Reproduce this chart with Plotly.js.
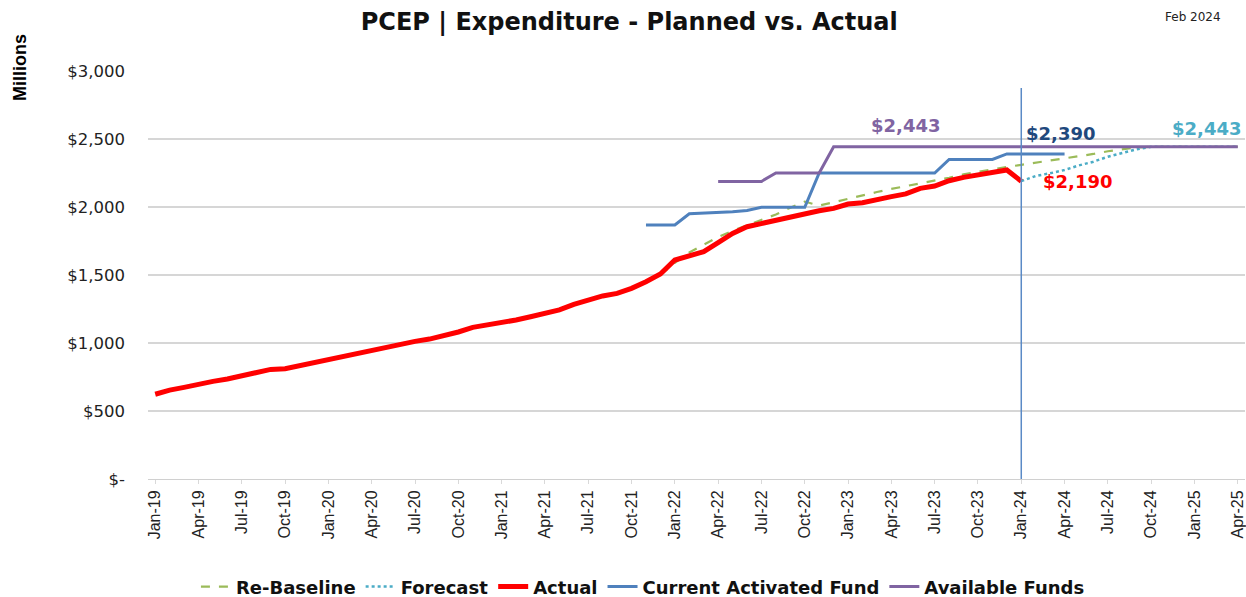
<!DOCTYPE html>
<html>
<head>
<meta charset="utf-8">
<script src="https://cdn.plot.ly/plotly-3.0.1.min.js"></script>
<style>html,body{margin:0;padding:0;background:#fff;}#chart{width:1246px;height:597px;}</style>
</head>
<body>
<div id="chart"></div>
<script>
// Month categories Jan-19 .. Apr-25
const months = [
 "Jan-19","Feb-19","Mar-19","Apr-19","May-19","Jun-19","Jul-19","Aug-19","Sep-19","Oct-19","Nov-19","Dec-19",
 "Jan-20","Feb-20","Mar-20","Apr-20","May-20","Jun-20","Jul-20","Aug-20","Sep-20","Oct-20","Nov-20","Dec-20",
 "Jan-21","Feb-21","Mar-21","Apr-21","May-21","Jun-21","Jul-21","Aug-21","Sep-21","Oct-21","Nov-21","Dec-21",
 "Jan-22","Feb-22","Mar-22","Apr-22","May-22","Jun-22","Jul-22","Aug-22","Sep-22","Oct-22","Nov-22","Dec-22",
 "Jan-23","Feb-23","Mar-23","Apr-23","May-23","Jun-23","Jul-23","Aug-23","Sep-23","Oct-23","Nov-23","Dec-23",
 "Jan-24","Feb-24","Mar-24","Apr-24","May-24","Jun-24","Jul-24","Aug-24","Sep-24","Oct-24","Nov-24","Dec-24",
 "Jan-25","Feb-25","Mar-25","Apr-25"
];
const tickLabels = ["Jan-19","Apr-19","Jul-19","Oct-19","Jan-20","Apr-20","Jul-20","Oct-20","Jan-21","Apr-21","Jul-21","Oct-21",
 "Jan-22","Apr-22","Jul-22","Oct-22","Jan-23","Apr-23","Jul-23","Oct-23","Jan-24","Apr-24","Jul-24","Oct-24","Jan-25","Apr-25"];

// Actual: Jan-19 .. Jan-24
const actualMonths = months.slice(0, 61);
const actual = [623,654,674,698,718,735,757,777,806,811,833,863,
 880,899,924,949,965,990,1012,1029,1051,1081,1115,1132,
 1145,1169,1193,1218,1243,1284,1316,1346,1365,1402,1451,1507,
 1610,1642,1672,1738,1806,1855,1880,1897,1924,1949,1972,1990,
 2022,2032,2057,2076,2096,2137,2154,2193,2218,2235,2252,2272,
 2190];

// Re-Baseline: Dec-21 .. Apr-25
const rebaseMonths = months.slice(35);
const rebaseline = [1500,
 1590,1665,1725,1780,1825,1865,1905,1945,1995,2040,2010,2035,
 2065,2088,2110,2133,2153,2174,2195,2215,2240,2260,2280,2295,
 2310,2325,2340,2360,2375,2390,2410,2425,2438,2443,2443,2443,
 2443,2443,2443,2443];

// Forecast: Jan-24 .. Apr-25
const forecastMonths = months.slice(60);
const forecast = [2190,2228,2248,2272,2306,2333,2370,2395,2424,2443,2443,2443,2443,2443,2443,2443];

// Current Activated Fund: Nov-21 .. Apr-24
const activatedMonths = months.slice(34, 64);
const activated = [1868,1868,1868,1950,1955,1958,1965,1975,1998,1998,1998,1998,
 2250,2250,2250,2250,2250,2250,2250,2250,2250,2350,2350,2350,2350,2390,2390,2390,2390,2390];

// Available Funds: Apr-22 .. Apr-25
const availableMonths = months.slice(39);
const available = [2188,2188,2188,2188,2250,2250,2250,2250,
 2443,2443,2443,2443,2443,2443,2443,2443,2443,2443,2443,2443,2443,2443,2443,2443,2443,
 2443,2443,2443,2443,2443,2443,2443,2443,2443,2443,2443,2443];

const yTickVals = [0,500,1000,1500,2000,2500,3000];
const yTickText = ["$-","$500","$1,000","$1,500","$2,000","$2,500","$3,000"];

const traces = [
 {x: rebaseMonths, y: rebaseline, name: "Re-Baseline", mode: "lines",
  line: {color: "#9BBB59", width: 2.2, dash: "dash"}},
 {x: forecastMonths, y: forecast, name: "Forecast", mode: "lines",
  line: {color: "#4BACC6", width: 2.5, dash: "dot"}},
 {x: activatedMonths, y: activated, name: "Current Activated Fund", mode: "lines",
  line: {color: "#4F81BD", width: 3}},
 {x: availableMonths, y: available, name: "Available Funds", mode: "lines",
  line: {color: "#8064A2", width: 3}},
 {x: actualMonths, y: actual, name: "Actual", mode: "lines",
  line: {color: "#FF0000", width: 5}}
];

const annFont = (c) => ({family: "DejaVu Sans", size: 18, color: c, weight: "bold"});

const layout = {
 width: 1246, height: 597,
 margin: {l: 148, r: 1, t: 71, b: 118},
 paper_bgcolor: "#fff", plot_bgcolor: "#fff",
 title: {text: "<b>PCEP | Expenditure - Planned vs. Actual</b>", x: 0.505, xanchor: "center", y: 0.963, yanchor: "middle",
  font: {family: "DejaVu Sans", size: 24, color: "#111"}},
 xaxis: {type: "category", categoryorder: "array", categoryarray: months,
  range: [-0.5, 75.5], tickmode: "array", tickvals: tickLabels, ticktext: tickLabels,
  tickangle: -90, tickfont: {family: "Liberation Sans", size: 16, color: "#222"},
  showgrid: false, showline: true, linecolor: "#d0d0d0", linewidth: 1,
  ticks: "outside", ticklen: 4, tickcolor: "#d9d9d9", zeroline: false},
 yaxis: {range: [0, 3000], tickmode: "array", tickvals: yTickVals, ticktext: yTickText,
  tickfont: {family: "DejaVu Sans", size: 16.5, color: "#222"},
  showgrid: true, gridcolor: "#d6d6d6", gridwidth: 1.5, zeroline: false, showline: false,
  ticks: "", ticklabelstandoff: 22},
 showlegend: true,
 legend: {orientation: "h", xref: "container", yref: "container", x: 0.516, xanchor: "center", y: 0.017, yanchor: "middle",
  font: {family: "DejaVu Sans", size: 18, color: "#111", weight: "bold"}, traceorder: "normal", itemwidth: 30},
 shapes: [
  {type: "line", xref: "x", yref: "y", x0: 60, x1: 60, y0: 0, y1: 2875,
   line: {color: "#5A8AC6", width: 1.5}}
 ],
 annotations: [
  {x: 52, y: 2596, xref: "x", yref: "y", text: "<b>$2,443</b>", showarrow: false, font: annFont("#8064A2")},
  {x: 62.7, y: 2537, xref: "x", yref: "y", text: "<b>$2,390</b>", showarrow: false, font: annFont("#1F497D")},
  {x: 72.8, y: 2574, xref: "x", yref: "y", text: "<b>$2,443</b>", showarrow: false, font: annFont("#4BACC6")},
  {x: 63.9, y: 2184, xref: "x", yref: "y", text: "<b>$2,190</b>", showarrow: false, font: annFont("#FF0000")},
  {xref: "paper", yref: "paper", x: (1193 - 148) / 1097, y: (479 - 17) / 408, xanchor: "center", yanchor: "middle",
   text: "Feb 2024", showarrow: false, font: {family: "DejaVu Sans", size: 12, color: "#222"}},
  {xref: "paper", yref: "paper", x: (20 - 148) / 1097, y: (479 - 68) / 408, xanchor: "center", yanchor: "middle",
   text: "<b>Millions</b>", textangle: -90, showarrow: false,
   font: {family: "Liberation Sans", size: 18, color: "#000"}}
 ]
};

// legend order as in reference
const order = [0, 1, 4, 2, 3];
Plotly.newPlot("chart", order.map(i => traces[i]), layout, {displayModeBar: false, staticPlot: true});
</script>
</body>
</html>
